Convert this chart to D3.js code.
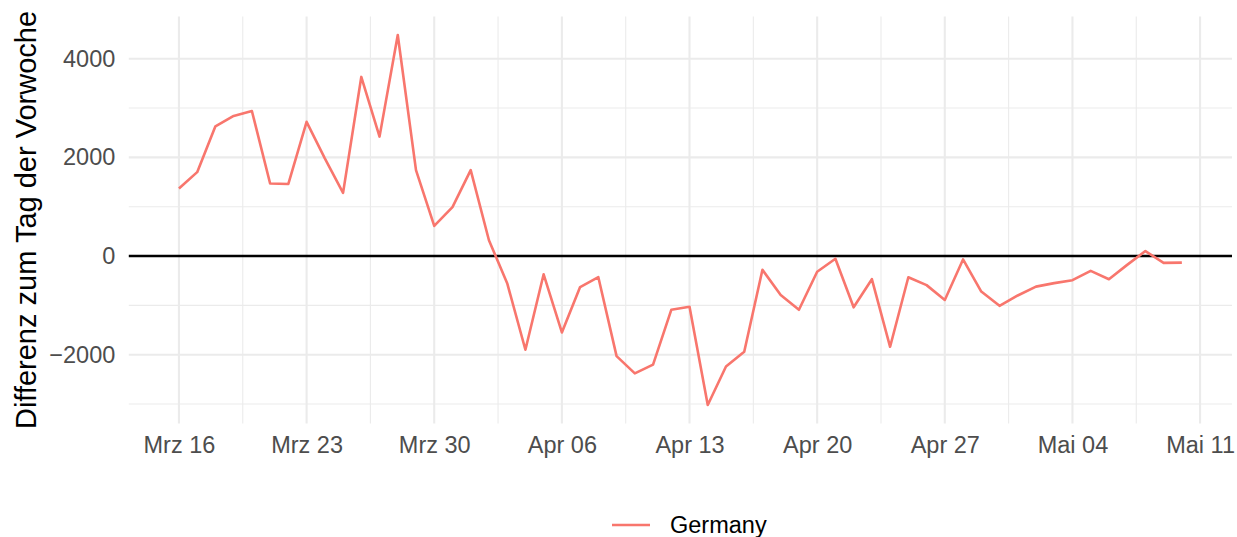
<!DOCTYPE html>
<html lang="de">
<head>
<meta charset="UTF-8">
<title>Differenz zum Tag der Vorwoche</title>
<script src="https://d3js.org/d3.v7.min.js"></script>
<style>
  body { margin: 0; background: #fff; }
  svg text { font-family: "Liberation Sans", Arial, sans-serif; }
</style>
</head>
<body>
<svg id="chart" width="1237" height="537"></svg>
<script>
// Daten: tägliche Differenz zum gleichen Tag der Vorwoche (Germany), ab 16. März 2020
const startDate = new Date(Date.UTC(2020, 2, 16));
const germany = [
  1370, 1700, 2630, 2840, 2940, 1470, 1460, 2720, 1980, 1280, 3630, 2420, 4480, 1740, 610, 990,
  1740, 320, -550, -1900, -370, -1550, -630, -430, -2030, -2380, -2200, -1090, -1030, -3020,
  -2240, -1940, -280, -790, -1090, -320, -55, -1040, -470, -1840, -430, -590, -890, -70,
  -720, -1010,
  -800, -620, -550, -490, -300, -470, -180, 100, -140, -135
];
const seriesName = "Germany";
const yTicks = [-2000, 0, 2000, 4000];
const yMinor = [-3000, -1000, 1000, 3000];
const xTickDates = ["2020-03-16", "2020-03-23", "2020-03-30", "2020-04-06", "2020-04-13",
                    "2020-04-20", "2020-04-27", "2020-05-04", "2020-05-11"];
const xTickLabels = ["Mrz 16", "Mrz 23", "Mrz 30", "Apr 06", "Apr 13",
                     "Apr 20", "Apr 27", "Mai 04", "Mai 11"];

const data = germany.map((v, i) => ({ date: d3.utcDay.offset(startDate, i), value: v }));

const svg = d3.select("#chart");
const W = +svg.attr("width"), H = +svg.attr("height");
const margin = { top: 16.5, right: 5, bottom: 113.5, left: 128.8 };

// ggplot-artige 5%-Erweiterung
const xExt = d3.extent(data, d => d.date);
const xPad = (xExt[1] - xExt[0]) * 0.05;
const x = d3.scaleUtc()
  .domain([new Date(+xExt[0] - xPad), new Date(+xExt[1] + xPad)])
  .range([margin.left, W - margin.right]);

const yExt = d3.extent(data, d => d.value);
const yPad = (yExt[1] - yExt[0]) * 0.05;
const y = d3.scaleLinear()
  .domain([yExt[0] - yPad, yExt[1] + yPad])
  .range([H - margin.bottom, margin.top]);

const tickDates = xTickDates.map(s => new Date(s + "T00:00:00Z"));
const minorDates = tickDates.slice(0, -1).map(d => d3.utcHour.offset(d, 84))
  .concat([d3.utcHour.offset(tickDates[0], -84)])
  .filter(d => x(d) >= margin.left && x(d) <= W - margin.right);

const grid = svg.append("g");
// Nebengitter
grid.selectAll(".ymin").data(yMinor).join("line")
  .attr("x1", margin.left).attr("x2", W - margin.right)
  .attr("y1", d => y(d)).attr("y2", d => y(d))
  .attr("stroke", "#ebebeb").attr("stroke-width", 1.1);
grid.selectAll(".xmin").data(minorDates).join("line")
  .attr("y1", margin.top).attr("y2", H - margin.bottom)
  .attr("x1", d => x(d)).attr("x2", d => x(d))
  .attr("stroke", "#ebebeb").attr("stroke-width", 1.1);
// Hauptgitter
grid.selectAll(".ymaj").data(yTicks).join("line")
  .attr("x1", margin.left).attr("x2", W - margin.right)
  .attr("y1", d => y(d)).attr("y2", d => y(d))
  .attr("stroke", "#ebebeb").attr("stroke-width", 2.1);
grid.selectAll(".xmaj").data(tickDates).join("line")
  .attr("y1", margin.top).attr("y2", H - margin.bottom)
  .attr("x1", d => x(d)).attr("x2", d => x(d))
  .attr("stroke", "#ebebeb").attr("stroke-width", 2.1);

// Nulllinie
svg.append("line")
  .attr("x1", margin.left).attr("x2", W - margin.right)
  .attr("y1", y(0)).attr("y2", y(0))
  .attr("stroke", "#000").attr("stroke-width", 2.4);

// Linie
svg.append("path")
  .datum(data)
  .attr("fill", "none")
  .attr("stroke", "#F8766D")
  .attr("stroke-width", 2.6)
  .attr("stroke-linejoin", "round")
  .attr("d", d3.line().x(d => x(d.date)).y(d => y(d.value)));

// Achsen
const yAxis = svg.append("g")
  .attr("transform", `translate(${margin.left - 13.5},0)`)
  .call(d3.axisLeft(y).tickValues(yTicks).tickSize(0).tickPadding(0).tickFormat(d3.format("d")));
yAxis.select(".domain").remove();
yAxis.selectAll("text").attr("font-size", 23.5).attr("fill", "#4d4d4d")
  .style("font-family", '"Liberation Sans", Arial, sans-serif');

const xAxis = svg.append("g")
  .attr("transform", `translate(0,${H - margin.bottom})`)
  .call(d3.axisBottom(x).tickValues(tickDates).tickSize(0).tickPadding(0)
    .tickFormat((d, i) => xTickLabels[i]));
xAxis.select(".domain").remove();
xAxis.selectAll("text").attr("font-size", 23.5).attr("fill", "#4d4d4d")
  .attr("dy", null).attr("y", 29.5)
  .style("font-family", '"Liberation Sans", Arial, sans-serif');

// Achsentitel
svg.append("text")
  .attr("transform", `translate(36,${(margin.top + H - margin.bottom) / 2}) rotate(-90)`)
  .attr("text-anchor", "middle")
  .attr("font-size", 29)
  .attr("fill", "#000")
  .text("Differenz zum Tag der Vorwoche");

// Legende
const lg = svg.append("g");
lg.append("line")
  .attr("x1", 612).attr("x2", 650).attr("y1", 525).attr("y2", 525)
  .attr("stroke", "#F8766D").attr("stroke-width", 2.6);
lg.append("text")
  .attr("x", 670).attr("y", 525).attr("dy", "0.35em")
  .attr("font-size", 23.5).attr("fill", "#000")
  .text(seriesName);
</script>
</body>
</html>
